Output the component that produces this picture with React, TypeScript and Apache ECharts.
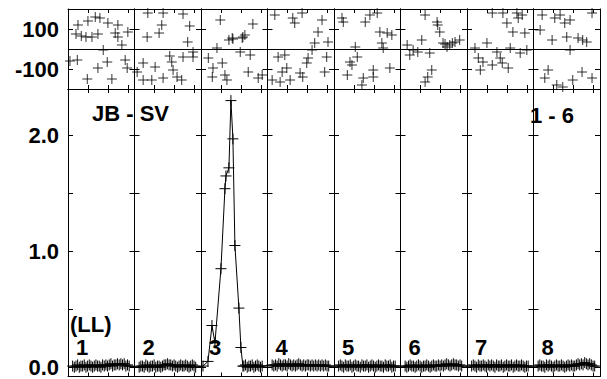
import React, { useEffect, useRef } from "react";
import * as echarts from "echarts";

// ---------- data ----------
const PANEL_LABELS = ["1", "2", "3", "4", "5", "6", "7", "8"];
const PHASE_TICKS = [0.3, 0.6, 0.9];
const TOP_LABEL_VALUES = [-100, 100];
const BOTTOM_TICKS = [0, 0.5, 1, 1.5, 2];
const BOTTOM_LABEL_VALUES = [0, 1, 2];

// phase scatter (phase within panel, degrees)
const TOP_P1 = [[0.15,120],[0.30,140],[0.41,160],[0.48,155],[0.60,130],[0.75,120],[0.90,85],[0.12,75],[0.20,65],[0.27,60],[0.36,60],[0.45,75],[0.71,80],[0.75,60],[0.81,20],[0.53,-5],[0.59,-65],[0.45,-95],[0.14,-55],[0.86,-55],[0.89,-95],[0.29,-150],[0.66,-150],[0.03,-60]];
const TOP_P2 = [[0.20,180],[0.43,180],[0.73,175],[0.41,120],[0.83,115],[0.19,60],[0.37,80],[0.80,35],[0.88,-15],[0.53,-35],[0.13,-70],[0.31,-90],[0.56,-65],[0.73,-40],[0.88,-40],[0.04,-115],[0.26,-155],[0.43,-145],[0.64,-140],[0.71,-155],[0.58,-105],[0.13,-155]];
const TOP_P3 = [[0.29,145],[0.78,125],[0.47,55],[0.63,60],[0.42,45],[0.48,50],[0.62,55],[0.66,70],[0.24,5],[0.59,-15],[0.74,-30],[0.11,-45],[0.32,-70],[0.18,-95],[0.17,-140],[0.39,-155],[0.36,-130],[0.71,-115],[0.86,-145],[0.92,-130]];
const TOP_P4 = [[0.11,170],[0.38,155],[0.52,180],[0.41,130],[0.82,145],[0.76,85],[0.71,30],[0.91,35],[0.67,-5],[0.61,-45],[0.16,-40],[0.26,-30],[0.89,-40],[0.59,-70],[0.29,-95],[0.49,-120],[0.22,-115],[0.86,-115],[0.07,-155],[0.19,-165],[0.34,-155],[0.53,-140]];
const TOP_P5 = [[0.12,155],[0.14,135],[0.47,135],[0.54,170],[0.65,180],[0.69,85],[0.80,80],[0.87,70],[0.72,30],[0.32,10],[0.74,5],[0.35,-40],[0.24,-65],[0.27,-80],[0.20,-130],[0.44,-145],[0.59,-105],[0.84,-95],[0.42,-180],[0.59,-140]];
const TOP_P6 = [[0.37,170],[0.55,135],[0.56,120],[0.59,85],[0.32,45],[0.10,20],[0.19,-5],[0.14,-30],[0.26,-15],[0.44,-20],[0.70,10],[0.74,20],[0.82,35],[0.89,45],[0.64,30],[0.67,25],[0.78,30],[0.47,-105],[0.41,-140],[0.37,-165]];
const TOP_P7 = [[0.38,180],[0.54,180],[0.75,180],[0.83,170],[0.77,155],[0.60,130],[0.69,85],[0.87,80],[0.30,30],[0.12,5],[0.17,-45],[0.24,-65],[0.45,-15],[0.50,-45],[0.38,-80],[0.65,5],[0.80,-20],[0.90,-5],[0.20,-105],[0.62,-95],[0.53,-70]];
const TOP_P8 = [[0.13,170],[0.32,155],[0.40,170],[0.47,130],[0.55,145],[0.88,180],[0.10,95],[0.28,45],[0.55,-5],[0.67,55],[0.74,45],[0.80,35],[0.50,60],[0.22,-105],[0.17,-145],[0.35,-180],[0.44,-190],[0.59,-155],[0.73,-115],[0.88,-145]];
const TOP_PANELS = [TOP_P1, TOP_P2, TOP_P3, TOP_P4, TOP_P5, TOP_P6, TOP_P7, TOP_P8];

// power curve (phase within panel -> value)
const NOISE_PHASES = [0.07,0.095,0.12,0.145,0.17,0.195,0.22,0.245,0.27,0.295,0.32,0.345,0.37,0.395,0.42,0.445,0.47,0.495,0.52,0.545,0.57,0.595,0.62,0.645,0.67,0.695,0.72,0.745,0.77,0.795,0.82,0.845,0.87,0.895,0.92];
const LOW_P1 = [0.01,0.00,0.01,0.02,0.00,0.01,0.01,0.02,0.00,0.01,0.02,0.01,0.00,0.01,0.02,0.01,0.01,0.00,0.02,0.01,0.02,0.01,0.02,0.03,0.01,0.02,0.02,0.03,0.02,0.03,0.02,0.03,0.01,0.02,0.01];
const LOW_P2 = [0.00,0.01,0.01,0.00,0.02,0.01,0.00,0.01,0.01,0.02,0.00,0.01,0.01,0.00,0.01,0.02,0.02,0.03,0.02,0.02,0.01,0.02,0.01,0.00,0.01,0.02,0.01,0.01,0.02,0.01,0.00,0.01,0.02,0.01,0.00];
const PEAK_P3 = [[0.03,0.01],[0.105,0.05],[0.165,0.36],[0.21,0.21],[0.30,0.85],[0.36,1.54],[0.375,1.65],[0.42,1.72],[0.45,2.30],[0.48,1.97],[0.51,1.05],[0.57,0.51],[0.60,0.17],[0.63,0.01]];
const LOW_P3_TAIL = [0.01,0.02,0.00,0.01,0.01,0.02,0.00,0.01,0.02,0.01,0.00,0.01];
const LOW_P4 = [0.02,0.01,0.02,0.01,0.03,0.02,0.01,0.02,0.02,0.01,0.03,0.02,0.01,0.02,0.01,0.02,0.03,0.02,0.01,0.02,0.01,0.02,0.02,0.01,0.02,0.01,0.02,0.01,0.02,0.01,0.02,0.01,0.02,0.01,0.01];
const LOW_P5 = [0.01,0.02,0.01,0.00,0.02,0.01,0.01,0.02,0.00,0.01,0.02,0.01,0.01,0.00,0.02,0.01,0.01,0.02,0.00,0.01,0.02,0.01,0.00,0.01,0.02,0.01,0.01,0.00,0.02,0.01,0.01,0.02,0.00,0.01,0.01];
const LOW_P6 = [0.01,0.00,0.01,0.02,0.01,0.01,0.00,0.01,0.02,0.01,0.00,0.01,0.01,0.02,0.01,0.00,0.01,0.02,0.01,0.01,0.02,0.01,0.02,0.01,0.02,0.03,0.02,0.01,0.02,0.03,0.02,0.02,0.01,0.02,0.01];
const LOW_P7 = [0.01,0.02,0.01,0.00,0.02,0.01,0.01,0.02,0.01,0.00,0.02,0.01,0.02,0.01,0.00,0.02,0.01,0.01,0.02,0.00,0.01,0.02,0.01,0.01,0.02,0.00,0.01,0.02,0.01,0.01,0.02,0.01,0.00,0.01,0.01];
const LOW_P8 = [0.01,0.02,0.01,0.01,0.00,0.02,0.01,0.02,0.01,0.00,0.01,0.02,0.01,0.01,0.02,0.01,0.00,0.01,0.02,0.01,0.02,0.01,0.01,0.02,0.03,0.02,0.03,0.02,0.04,0.03,0.02,0.03,0.02,0.01,0.01];
const LOW_PANELS = [LOW_P1, LOW_P2, null, LOW_P4, LOW_P5, LOW_P6, LOW_P7, LOW_P8];

// ---------- layout ----------
const W = 607;
const H = 379;
const LEFT = 68;
const PANEL_W = 66.5;
const N = 8;
const TOP_Y = 9;
const TOP_H = 80;
const BOT_Y = 89;
const BOT_H = 287.5;
const TOP_MIN = -200;
const TOP_MAX = 200;
const BOT_MIN = -0.08;
const BOT_MAX = 2.4;
const FONT = "'Liberation Sans', Arial, sans-serif";
const FONT_SIZE = 22;
const PLUS = "path://M5 0 L5 10 M0 5 L10 5";

function buildOption() {
  const grids: any[] = [
    { left: LEFT, top: TOP_Y, width: PANEL_W * N, height: TOP_H },
    { left: LEFT, top: BOT_Y, width: PANEL_W * N, height: BOT_H },
  ];
  const xAxes: any[] = [
    { type: "value", gridIndex: 0, min: 0, max: N, show: false },
    { type: "value", gridIndex: 1, min: 0, max: N, show: false },
  ];
  const yAxes: any[] = [
    { type: "value", gridIndex: 0, min: TOP_MIN, max: TOP_MAX, show: false },
    { type: "value", gridIndex: 1, min: BOT_MIN, max: BOT_MAX, show: false },
  ];
  const axisLine = { show: true, onZero: false, lineStyle: { color: "#000", width: 1 } };
  const labelStyle = { color: "#000", fontFamily: FONT, fontWeight: "bold", fontSize: FONT_SIZE, margin: 9 };

  for (let strip = 0; strip < 2; strip++) {
    for (let i = 0; i < N; i++) {
      const gi = grids.length;
      grids.push({
        left: LEFT + i * PANEL_W,
        top: strip === 0 ? TOP_Y : BOT_Y,
        width: PANEL_W,
        height: strip === 0 ? TOP_H : BOT_H,
      });
      for (const pos of ["bottom", "top"]) {
        xAxes.push({
          type: "value", gridIndex: gi, position: pos, min: 0, max: 1,
          axisLine,
          axisTick: { show: true, inside: true, length: 4, customValues: PHASE_TICKS, lineStyle: { color: "#000" } },
          axisLabel: { show: false },
          splitLine: { show: false },
        });
      }
      for (const pos of ["left", "right"]) {
        const showLabel = pos === "left" && i === 0;
        if (strip === 0) {
          yAxes.push({
            type: "value", gridIndex: gi, position: pos, min: TOP_MIN, max: TOP_MAX, interval: 100,
            axisLine,
            axisTick: { show: true, inside: true, length: 5, lineStyle: { color: "#000" } },
            axisLabel: showLabel
              ? { ...labelStyle, show: true, customValues: TOP_LABEL_VALUES, formatter: (v: number) => String(v) }
              : { show: false },
            splitLine: { show: false },
          });
        } else {
          yAxes.push({
            type: "value", gridIndex: gi, position: pos, min: BOT_MIN, max: BOT_MAX,
            axisLine,
            axisTick: { show: true, inside: true, length: 5, customValues: BOTTOM_TICKS, lineStyle: { color: "#000" } },
            axisLabel: showLabel
              ? { ...labelStyle, show: true, customValues: BOTTOM_LABEL_VALUES, formatter: (v: number) => v.toFixed(1) }
              : { show: false },
            splitLine: { show: false },
          });
        }
      }
    }
  }

  const topData = TOP_PANELS.flatMap((pts, i) => pts.map(([p, d]) => [i + p, d]));
  const lowData: number[][] = [];
  LOW_PANELS.forEach((vals, i) => {
    if (vals === null) {
      PEAK_P3.forEach(([p, v]) => lowData.push([i + p, v]));
      const tailPhases = NOISE_PHASES.filter((p) => p > 0.64);
      LOW_P3_TAIL.forEach((v, j) => {
        if (j < tailPhases.length) lowData.push([i + tailPhases[j], v]);
      });
    } else {
      vals.forEach((v, j) => {
        if (j < NOISE_PHASES.length) lowData.push([i + NOISE_PHASES[j], v]);
      });
    }
  });

  const font = `bold ${FONT_SIZE}px ${FONT}`;
  const graphics: any[] = [
    { type: "text", left: 92, top: 102, style: { text: "JB - SV", font, fill: "#000" } },
    { type: "text", left: 530, top: 104, style: { text: "1 - 6", font, fill: "#000" } },
    { type: "text", left: 70, top: 313, style: { text: "(LL)", font, fill: "#000" } },
    ...PANEL_LABELS.map((t, i) => ({
      type: "text", left: LEFT + i * PANEL_W + 8, top: 336,
      style: { text: t, font, fill: "#000" },
    })),
  ];

  return {
    animation: false,
    backgroundColor: "#fff",
    grid: grids,
    xAxis: xAxes,
    yAxis: yAxes,
    graphic: graphics,
    series: [
      {
        type: "scatter",
        xAxisIndex: 0,
        yAxisIndex: 0,
        data: topData,
        symbol: PLUS,
        symbolSize: 10,
        itemStyle: { color: "#000", borderColor: "#000", borderWidth: 1 },
        markLine: {
          silent: true,
          symbol: "none",
          label: { show: false },
          lineStyle: { color: "#000", width: 1, type: "solid" },
          data: [{ yAxis: 0 }],
        },
        z: 3,
      },
      {
        type: "line",
        xAxisIndex: 1,
        yAxisIndex: 1,
        data: lowData,
        symbol: PLUS,
        symbolSize: 11,
        showAllSymbol: true,
        lineStyle: { color: "#000", width: 1 },
        itemStyle: { color: "#000", borderColor: "#000", borderWidth: 1 },
        z: 3,
      },
    ],
  };
}

export default function App() {
  const ref = useRef<HTMLDivElement>(null);
  useEffect(() => {
    if (!ref.current) return;
    const chart = echarts.init(ref.current, null, { renderer: "svg" });
    chart.setOption(buildOption() as any);
    return () => chart.dispose();
  }, []);
  return (
    <div
      ref={ref}
      style={{ position: "fixed", left: 0, top: 0, width: W, height: H, background: "#fff" }}
    />
  );
}
